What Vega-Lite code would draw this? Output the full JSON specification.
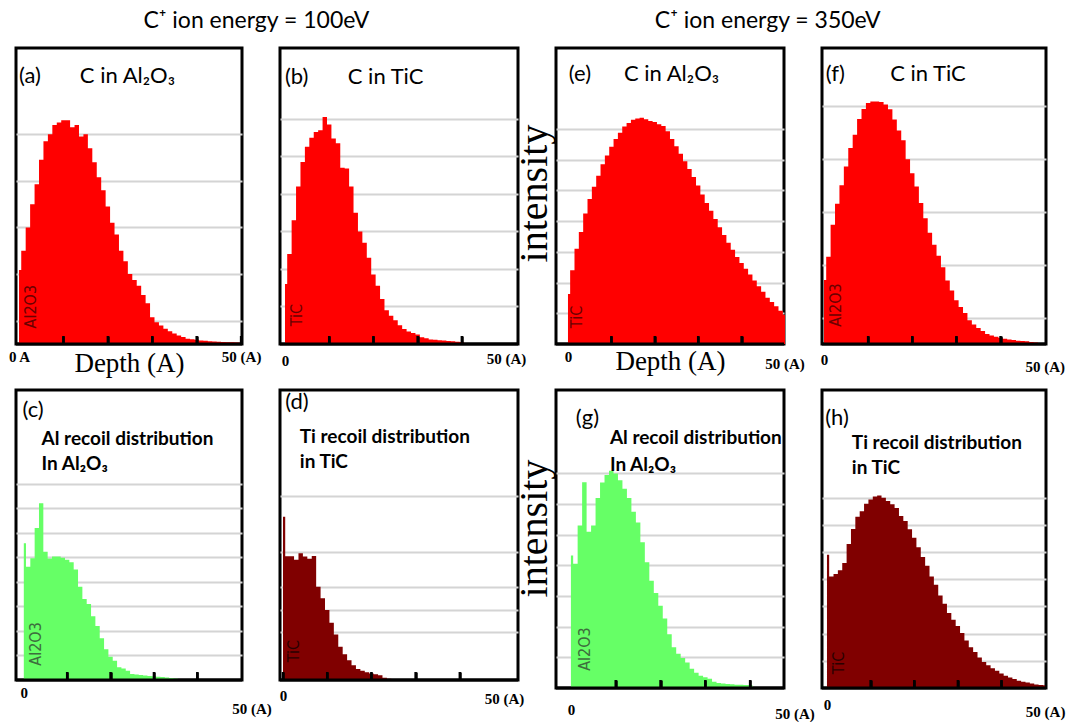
{
"$schema": "https://vega.github.io/schema/vega-lite/v6.json",
"background": "white",
"padding": {"left": 6, "top": 8, "right": 0, "bottom": 0},
"config": {"view": {"stroke": "#000", "strokeWidth": 3}, "font": "Lato", "axis": {"ticks": true}},
"datasets": {"h": [
{"x":0,"a":3.17,"b":1.6,"c":5.57,"d":7.0,"e":1.63,"f":2.42,"g":4.32,"h":4.9},
{"x":1,"a":4.0,"b":2.4,"c":4.62,"d":5.3,"e":2.4,"f":3.3,"g":4.05,"h":4.1},
{"x":2,"a":5.0,"b":3.3,"c":4.96,"d":5.3,"e":3.1,"f":4.5,"g":5.3,"h":4.19},
{"x":3,"a":6.0,"b":4.2,"c":6.2,"d":5.15,"e":3.65,"f":5.3,"g":6.71,"h":4.33},
{"x":4,"a":6.85,"b":4.85,"c":7.2,"d":5.43,"e":4.25,"f":6.0,"g":5.1,"h":4.6},
{"x":5,"a":7.9,"b":5.26,"c":5.23,"d":5.29,"e":4.72,"f":6.7,"g":5.3,"h":5.3},
{"x":6,"a":8.7,"b":5.5,"c":4.95,"d":5.2,"e":5.12,"f":7.4,"g":6.2,"h":5.85},
{"x":7,"a":9.0,"b":5.65,"c":5.03,"d":5.31,"e":5.48,"f":7.9,"g":6.7,"h":6.3},
{"x":8,"a":9.4,"b":5.7,"c":5.03,"d":4.0,"e":5.85,"f":8.5,"g":6.95,"h":6.5},
{"x":9,"a":9.5,"b":6.05,"c":4.98,"d":3.5,"e":6.14,"f":8.88,"g":7.09,"h":6.78},
{"x":10,"a":9.6,"b":5.85,"c":4.9,"d":3.0,"e":6.42,"f":9.1,"g":7.0,"h":6.93},
{"x":11,"a":9.6,"b":5.48,"c":4.8,"d":2.45,"e":6.68,"f":9.16,"g":6.78,"h":7.04},
{"x":12,"a":9.3,"b":5.35,"c":4.5,"d":1.95,"e":6.88,"f":9.16,"g":6.5,"h":7.08},
{"x":13,"a":9.4,"b":4.7,"c":3.8,"d":1.42,"e":7.08,"f":9.14,"g":6.2,"h":7.0},
{"x":14,"a":8.9,"b":4.68,"c":3.3,"d":1.1,"e":7.2,"f":9.05,"g":5.75,"h":6.88},
{"x":15,"a":9.0,"b":4.2,"c":3.1,"d":0.85,"e":7.3,"f":8.87,"g":5.4,"h":6.76},
{"x":16,"a":8.4,"b":3.5,"c":2.6,"d":0.63,"e":7.34,"f":8.48,"g":4.75,"h":6.62},
{"x":17,"a":7.8,"b":3.0,"c":2.2,"d":0.47,"e":7.37,"f":8.06,"g":4.1,"h":6.33},
{"x":18,"a":7.15,"b":2.7,"c":1.7,"d":0.4,"e":7.32,"f":7.7,"g":3.5,"h":6.14},
{"x":19,"a":6.6,"b":2.3,"c":1.25,"d":0.33,"e":7.26,"f":6.98,"g":3.1,"h":5.84},
{"x":20,"a":5.9,"b":1.85,"c":0.95,"d":0.28,"e":7.23,"f":6.45,"g":2.68,"h":5.53},
{"x":21,"a":5.2,"b":1.55,"c":0.78,"d":0.25,"e":7.16,"f":5.95,"g":2.27,"h":5.18},
{"x":22,"a":4.7,"b":1.2,"c":0.52,"d":0.2,"e":7.1,"f":5.33,"g":1.75,"h":4.82},
{"x":23,"a":4.0,"b":0.9,"c":0.47,"d":0.1,"e":6.93,"f":4.75,"g":1.33,"h":4.5},
{"x":24,"a":3.55,"b":0.75,"c":0.38,"d":0.05,"e":6.68,"f":4.2,"g":1.12,"h":4.1},
{"x":25,"a":3.0,"b":0.63,"c":0.24,"d":0.02,"e":6.44,"f":3.75,"g":0.98,"h":3.8},
{"x":26,"a":2.75,"b":0.5,"c":0.22,"d":0,"e":6.2,"f":3.33,"g":0.83,"h":3.4},
{"x":27,"a":2.5,"b":0.4,"c":0.2,"d":0,"e":5.95,"f":2.9,"g":0.63,"h":3.1},
{"x":28,"a":2.1,"b":0.33,"c":0.18,"d":0,"e":5.7,"f":2.4,"g":0.5,"h":2.76},
{"x":29,"a":1.75,"b":0.29,"c":0.16,"d":0,"e":5.44,"f":2.02,"g":0.4,"h":2.51},
{"x":30,"a":1.15,"b":0.25,"c":0.15,"d":0,"e":5.16,"f":1.65,"g":0.35,"h":2.28},
{"x":31,"a":0.93,"b":0.18,"c":0.13,"d":0,"e":4.87,"f":1.4,"g":0.3,"h":2.02},
{"x":32,"a":0.79,"b":0.15,"c":0.12,"d":0,"e":4.59,"f":1.17,"g":0.2,"h":1.75},
{"x":33,"a":0.65,"b":0.12,"c":0.1,"d":0,"e":4.34,"f":0.9,"g":0.16,"h":1.5},
{"x":34,"a":0.55,"b":0.11,"c":0.08,"d":0,"e":4.07,"f":0.74,"g":0.15,"h":1.32},
{"x":35,"a":0.45,"b":0.1,"c":0.06,"d":0,"e":3.8,"f":0.6,"g":0.13,"h":1.12},
{"x":36,"a":0.37,"b":0.09,"c":0,"d":0,"e":3.55,"f":0.49,"g":0.12,"h":0.96},
{"x":37,"a":0.3,"b":0.08,"c":0,"d":0,"e":3.3,"f":0.38,"g":0.11,"h":0.84},
{"x":38,"a":0.22,"b":0.07,"c":0,"d":0,"e":3.07,"f":0.32,"g":0.11,"h":0.73},
{"x":39,"a":0.2,"b":0.06,"c":0,"d":0,"e":2.83,"f":0.27,"g":0.1,"h":0.63},
{"x":40,"a":0.18,"b":0.05,"c":0,"d":0,"e":2.64,"f":0.24,"g":0.1,"h":0.53},
{"x":41,"a":0.15,"b":0.03,"c":0,"d":0,"e":2.45,"f":0.2,"g":0,"h":0.45},
{"x":42,"a":0.14,"b":0.03,"c":0,"d":0,"e":2.26,"f":0.17,"g":0,"h":0.39},
{"x":43,"a":0.12,"b":0.02,"c":0,"d":0,"e":2.07,"f":0.15,"g":0,"h":0.33},
{"x":44,"a":0.11,"b":0.02,"c":0,"d":0,"e":1.88,"f":0.12,"g":0,"h":0.27},
{"x":45,"a":0.1,"b":0.02,"c":0,"d":0,"e":1.7,"f":0.11,"g":0,"h":0.23},
{"x":46,"a":0.09,"b":0.01,"c":0,"d":0,"e":1.51,"f":0.1,"g":0,"h":0.2},
{"x":47,"a":0.08,"b":0.01,"c":0,"d":0,"e":1.37,"f":0.08,"g":0,"h":0.17},
{"x":48,"a":0.07,"b":0.01,"c":0,"d":0,"e":1.23,"f":0.06,"g":0,"h":0.13},
{"x":49,"a":0.06,"b":0,"c":0,"d":0,"e":1.08,"f":0.04,"g":0,"h":0.11},
{"x":50,"a":0.05,"b":0,"c":0,"d":0,"e":0.95,"f":0.03,"g":0,"h":0.1}
]},
"data": {"name": "h"},
"columns": 4,
"align": "each",
"bounds": "flush",
"spacing": {"row": 46, "column": 38},
"concat": [
  {"width": 226, "height": 296, "layer": [
   {"mark": {"type": "area", "interpolate": "step", "color": "#ff0000"},
    "encoding": {
     "x": {"field": "x", "type": "quantitative", "scale": {"domain": [-0.68, 50.2], "nice": false, "zero": false},
      "axis": {"values": [0,10,20,30,40,50], "labelExpr": "datum.value == 0 ? '0 A' : datum.value == 50 ? '50 (A)' : ''", "offset": -8, "domain": false, "ticks": true, "tickSize": 8, "tickWidth": 2.5, "tickColor": {"condition": {"test": "datum.value == 0", "value": "rgba(0,0,0,0)"}, "value": "#000"}, "labelPadding": 5, "labelFont": "Liberation Serif", "labelFontWeight": "bold", "labelFontSize": 15, "labelColor": "#000", "labelFlush": false, "labelOverlap": false, "grid": false, "zindex": 1, "title": "Depth (A)", "titleFont": "Liberation Serif", "titleFontSize": 27, "titleFontWeight": "normal", "titleColor": "#000", "titleY": 27, "titleBaseline": "middle"}},
     "y": {"field": "a", "type": "quantitative", "scale": {"domain": [0, 12.7], "nice": false},
      "axis": {"values": [1,2,3,4,5,6,7,8,9], "grid": true, "gridColor": "#d4d4d4", "gridWidth": 2, "labels": false, "ticks": false, "domain": false, "title": null, "zindex": 0}}}},
   {"data": {"values": [{}]}, "mark": {"type": "rule", "color": "#000", "strokeWidth": 3}, "encoding": {"y": {"datum": 0}}},
   {"transform": [{"filter": "datum.x > 0 && datum.x <= 50 && datum.x % 10 == 0"}], "mark": {"type": "rule", "color": "#000", "strokeWidth": 2.5}, "encoding": {"x": {"field": "x", "type": "quantitative"}, "y": {"datum": 0}, "y2": {"datum": 0.343}}},
   {"data": {"values": [{"t": "C⁺ ion energy = 100eV"}]}, "mark": {"type": "text", "align": "left", "baseline": "middle", "font": "Lato, DejaVu Sans", "fontSize": 23, "color": "#000"}, "encoding": {"x": {"datum": 28.0}, "y": {"datum": 13.86}, "text": {"field": "t"}}},
   {"data": {"values": [{"t": "(a)"}]}, "mark": {"type": "text", "align": "left", "baseline": "middle", "font": "Lato, DejaVu Sans", "fontSize": 22, "color": "#000"}, "encoding": {"x": {"datum": 0}, "y": {"datum": 11.5}, "text": {"field": "t"}}},
   {"data": {"values": [{"t": "C in Al₂O₃"}]}, "mark": {"type": "text", "align": "left", "baseline": "middle", "font": "Lato, DejaVu Sans", "fontSize": 22, "color": "#000"}, "encoding": {"x": {"datum": 13.7}, "y": {"datum": 11.5}, "text": {"field": "t"}}},
   {"data": {"values": [{"t": "Al2O3"}]}, "mark": {"type": "text", "angle": 270, "align": "center", "baseline": "middle", "font": "Liberation Sans Narrow, DejaVu Sans Condensed, sans-serif", "fontSize": 16, "color": "#6b0000"}, "encoding": {"x": {"datum": 2.7}, "y": {"datum": 1.6}, "text": {"field": "t"}}}
  ]},
  {"width": 238, "height": 296, "layer": [
   {"mark": {"type": "area", "interpolate": "step", "color": "#ff0000"},
    "encoding": {
     "x": {"field": "x", "type": "quantitative", "scale": {"domain": [-1.13, 52.7], "nice": false, "zero": false},
      "axis": {"values": [0,10,20,30,40,50], "labelExpr": "datum.value == 0 ? '0' : datum.value == 50 ? '50 (A)' : ''", "offset": -8, "domain": false, "ticks": true, "tickSize": 8, "tickWidth": 2.5, "tickColor": {"condition": {"test": "datum.value == 0 || datum.value == 50", "value": "rgba(0,0,0,0)"}, "value": "#000"}, "labelPadding": {"condition": {"test": "datum.value == 50", "value": 7}, "value": 9}, "labelFont": "Liberation Serif", "labelFontWeight": "bold", "labelFontSize": 15, "labelColor": "#000", "labelFlush": false, "labelOverlap": false, "grid": false, "zindex": 1, "title": null}},
     "y": {"field": "b", "type": "quantitative", "scale": {"domain": [0, 7.89], "nice": false},
      "axis": {"values": [1,2,3,4,5,6], "grid": true, "gridColor": "#d4d4d4", "gridWidth": 2, "labels": false, "ticks": false, "domain": false, "title": null, "zindex": 0}}}},
   {"data": {"values": [{}]}, "mark": {"type": "rule", "color": "#000", "strokeWidth": 3}, "encoding": {"y": {"datum": 0}}},
   {"transform": [{"filter": "datum.x > 0 && datum.x < 50 && datum.x % 10 == 0"}], "mark": {"type": "rule", "color": "#000", "strokeWidth": 2.5}, "encoding": {"x": {"field": "x", "type": "quantitative"}, "y": {"datum": 0}, "y2": {"datum": 0.213}}},
   {"data": {"values": [{"t": "(b)"}]}, "mark": {"type": "text", "align": "left", "baseline": "middle", "font": "Lato, DejaVu Sans", "fontSize": 22, "color": "#000"}, "encoding": {"x": {"datum": 0}, "y": {"datum": 7.12}, "text": {"field": "t"}}},
   {"data": {"values": [{"t": "C in TiC"}]}, "mark": {"type": "text", "align": "left", "baseline": "middle", "font": "Lato, DejaVu Sans", "fontSize": 22, "color": "#000"}, "encoding": {"x": {"datum": 14.2}, "y": {"datum": 7.12}, "text": {"field": "t"}}},
   {"data": {"values": [{"t": "TiC"}]}, "mark": {"type": "text", "angle": 270, "align": "center", "baseline": "middle", "font": "Liberation Sans Narrow, DejaVu Sans Condensed, sans-serif", "fontSize": 16, "color": "#6b0000"}, "encoding": {"x": {"datum": 2.7}, "y": {"datum": 0.77}, "text": {"field": "t"}}}
  ]},
  {"width": 228, "height": 296, "layer": [
   {"mark": {"type": "area", "interpolate": "step", "color": "#ff0000"},
    "encoding": {
     "x": {"field": "x", "type": "quantitative", "scale": {"domain": [-2.76, 49.77], "nice": false, "zero": false},
      "axis": {"values": [0,10,20,30,40], "labelExpr": "datum.value == 0 ? '0' : ''", "offset": -8, "domain": false, "ticks": true, "tickSize": 8, "tickWidth": 2.5, "tickColor": {"condition": {"test": "datum.value == 0", "value": "rgba(0,0,0,0)"}, "value": "#000"}, "labelPadding": 5, "labelFont": "Liberation Serif", "labelFontWeight": "bold", "labelFontSize": 15, "labelColor": "#000", "labelFlush": false, "labelOverlap": false, "grid": false, "zindex": 1, "title": "Depth (A)", "titleFont": "Liberation Serif", "titleFontSize": 27, "titleFontWeight": "normal", "titleColor": "#000", "titleY": 25, "titleBaseline": "middle"}},
     "y": {"field": "e", "type": "quantitative", "scale": {"domain": [0, 9.64], "nice": false},
      "axis": {"values": [1,2,3,4,5,6,7], "grid": true, "gridColor": "#d4d4d4", "gridWidth": 2, "labels": false, "ticks": false, "domain": false, "zindex": 0, "title": "intensity", "titleFont": "Liberation Serif", "titleFontSize": 40, "titleFontWeight": "normal", "titleColor": "#000", "titlePadding": 2, "titleY": 145}}}},
   {"data": {"values": [{}]}, "mark": {"type": "rule", "color": "#000", "strokeWidth": 3}, "encoding": {"y": {"datum": 0}}},
   {"transform": [{"filter": "datum.x > 0 && datum.x < 50 && datum.x % 10 == 0"}], "mark": {"type": "rule", "color": "#000", "strokeWidth": 2.5}, "encoding": {"x": {"field": "x", "type": "quantitative"}, "y": {"datum": 0}, "y2": {"datum": 0.26}}},
   {"data": {"values": [{"t": "C⁺ ion energy = 350eV"}]}, "mark": {"type": "text", "align": "left", "baseline": "middle", "font": "Lato, DejaVu Sans", "fontSize": 23, "color": "#000"}, "encoding": {"x": {"datum": 20.0}, "y": {"datum": 10.52}, "text": {"field": "t"}}},
   {"data": {"values": [{"t": "50 (A)"}]}, "mark": {"type": "text", "align": "center", "baseline": "middle", "font": "Liberation Serif", "fontWeight": "bold", "fontSize": 15, "color": "#000"}, "encoding": {"x": {"datum": 50}, "y": {"datum": -0.65}, "text": {"field": "t"}}},
   {"data": {"values": [{"t": "(e)"}]}, "mark": {"type": "text", "align": "left", "baseline": "middle", "font": "Lato, DejaVu Sans", "fontSize": 22, "color": "#000"}, "encoding": {"x": {"datum": 0.2}, "y": {"datum": 8.8}, "text": {"field": "t"}}},
   {"data": {"values": [{"t": "C in Al₂O₃"}]}, "mark": {"type": "text", "align": "left", "baseline": "middle", "font": "Lato, DejaVu Sans", "fontSize": 22, "color": "#000"}, "encoding": {"x": {"datum": 12.9}, "y": {"datum": 8.8}, "text": {"field": "t"}}},
   {"data": {"values": [{"t": "TiC"}]}, "mark": {"type": "text", "angle": 270, "align": "center", "baseline": "middle", "font": "Liberation Sans Narrow, DejaVu Sans Condensed, sans-serif", "fontSize": 16, "color": "#6b0000"}, "encoding": {"x": {"datum": 2.1}, "y": {"datum": 0.88}, "text": {"field": "t"}}}
  ]},
  {"width": 224, "height": 296, "layer": [
   {"mark": {"type": "area", "interpolate": "step", "color": "#ff0000"},
    "encoding": {
     "x": {"field": "x", "type": "quantitative", "scale": {"domain": [-0.45, 50.3], "nice": false, "zero": false},
      "axis": {"values": [0,10,20,30,40,50], "labelExpr": "datum.value == 0 ? '0' : datum.value == 50 ? '50 (A)' : ''", "offset": -8, "domain": false, "ticks": true, "tickSize": 8, "tickWidth": 2.5, "tickColor": {"condition": {"test": "datum.value == 0 || datum.value == 50", "value": "rgba(0,0,0,0)"}, "value": "#000"}, "labelPadding": {"condition": {"test": "datum.value == 50", "value": 15}, "value": 8}, "labelFont": "Liberation Serif", "labelFontWeight": "bold", "labelFontSize": 15, "labelColor": "#000", "labelFlush": false, "labelOverlap": false, "grid": false, "zindex": 1, "title": null}},
     "y": {"field": "f", "type": "quantitative", "scale": {"domain": [0, 11.18], "nice": false},
      "axis": {"values": [1,2,3,4,5,6,7,8,9], "grid": true, "gridColor": "#d4d4d4", "gridWidth": 2, "labels": false, "ticks": false, "domain": false, "title": null, "zindex": 0}}}},
   {"data": {"values": [{}]}, "mark": {"type": "rule", "color": "#000", "strokeWidth": 3}, "encoding": {"y": {"datum": 0}}},
   {"transform": [{"filter": "datum.x > 0 && datum.x < 50 && datum.x % 10 == 0"}], "mark": {"type": "rule", "color": "#000", "strokeWidth": 2.5}, "encoding": {"x": {"field": "x", "type": "quantitative"}, "y": {"datum": 0}, "y2": {"datum": 0.302}}},
   {"data": {"values": [{"t": "(f)"}]}, "mark": {"type": "text", "align": "left", "baseline": "middle", "font": "Lato, DejaVu Sans", "fontSize": 22, "color": "#000"}, "encoding": {"x": {"datum": 0.4}, "y": {"datum": 10.2}, "text": {"field": "t"}}},
   {"data": {"values": [{"t": "C in TiC"}]}, "mark": {"type": "text", "align": "left", "baseline": "middle", "font": "Lato, DejaVu Sans", "fontSize": 22, "color": "#000"}, "encoding": {"x": {"datum": 15}, "y": {"datum": 10.2}, "text": {"field": "t"}}},
   {"data": {"values": [{"t": "Al2O3"}]}, "mark": {"type": "text", "angle": 270, "align": "center", "baseline": "middle", "font": "Liberation Sans Narrow, DejaVu Sans Condensed, sans-serif", "fontSize": 16, "color": "#6b0000"}, "encoding": {"x": {"datum": 2.7}, "y": {"datum": 1.47}, "text": {"field": "t"}}}
  ]},
  {"width": 226, "height": 290, "layer": [
   {"mark": {"type": "area", "interpolate": "step", "color": "#66ff66"},
    "encoding": {
     "x": {"field": "x", "type": "quantitative", "scale": {"domain": [-1.8, 50.3], "nice": false, "zero": false},
      "axis": {"values": [0,10,20,30,40], "labelExpr": "datum.value == 0 ? '0' : ''", "offset": -8, "domain": false, "ticks": true, "tickSize": 8, "tickWidth": 2.5, "tickColor": {"condition": {"test": "datum.value == 0", "value": "rgba(0,0,0,0)"}, "value": "#000"}, "labelPadding": 5, "labelFont": "Liberation Serif", "labelFontWeight": "bold", "labelFontSize": 15, "labelColor": "#000", "labelFlush": false, "labelOverlap": false, "grid": false, "zindex": 1, "title": null}},
     "y": {"field": "c", "type": "quantitative", "scale": {"domain": [0, 11.82], "nice": false},
      "axis": {"values": [1,2,3,4,5,6,7,8], "grid": true, "gridColor": "#d4d4d4", "gridWidth": 2, "labels": false, "ticks": false, "domain": false, "title": null, "zindex": 0}}}},
   {"data": {"values": [{}]}, "mark": {"type": "rule", "color": "#000", "strokeWidth": 3}, "encoding": {"y": {"datum": 0}}},
   {"transform": [{"filter": "datum.x > 0 && datum.x < 50 && datum.x % 10 == 0"}], "mark": {"type": "rule", "color": "#000", "strokeWidth": 2.5}, "encoding": {"x": {"field": "x", "type": "quantitative"}, "y": {"datum": 0}, "y2": {"datum": 0.326}}},
   {"data": {"values": [{"t": "50 (A)"}]}, "mark": {"type": "text", "align": "center", "baseline": "middle", "font": "Liberation Serif", "fontWeight": "bold", "fontSize": 15, "color": "#000"}, "encoding": {"x": {"datum": 52.6}, "y": {"datum": -1.18}, "text": {"field": "t"}}},
   {"data": {"values": [{"t": "(c)"}]}, "mark": {"type": "text", "align": "left", "baseline": "middle", "font": "Lato, DejaVu Sans", "fontSize": 22, "color": "#000"}, "encoding": {"x": {"datum": -0.3}, "y": {"datum": 11.0}, "text": {"field": "t"}}},
   {"data": {"values": [{"t": ["Al recoil distribution", "In Al₂O₃"]}]}, "mark": {"type": "text", "align": "left", "baseline": "top", "lineHeight": 25, "font": "Lato, DejaVu Sans", "fontSize": 19, "fontWeight": "bold", "color": "#000"}, "encoding": {"x": {"datum": 4.1}, "y": {"datum": 10.19}, "text": {"field": "t"}}},
   {"data": {"values": [{"t": "Al2O3"}]}, "mark": {"type": "text", "angle": 270, "align": "center", "baseline": "middle", "font": "Liberation Sans Narrow, DejaVu Sans Condensed, sans-serif", "fontSize": 16, "color": "#3d6e3d"}, "encoding": {"x": {"datum": 2.7}, "y": {"datum": 1.47}, "text": {"field": "t"}}}
  ]},
  {"width": 238, "height": 290, "layer": [
   {"mark": {"type": "area", "interpolate": "step", "color": "#800000"},
    "encoding": {
     "x": {"field": "x", "type": "quantitative", "scale": {"domain": [-0.68, 53.16], "nice": false, "zero": false},
      "axis": {"values": [0,10,20,30,40,50], "labelExpr": "datum.value == 0 ? '0' : datum.value == 50 ? '50 (A)' : ''", "offset": -8, "domain": false, "ticks": true, "tickSize": 8, "tickWidth": 2.5, "tickColor": {"condition": {"test": "datum.value == 50", "value": "rgba(0,0,0,0)"}, "value": "#000"}, "labelPadding": {"condition": {"test": "datum.value == 50", "value": 11}, "value": 8}, "labelFont": "Liberation Serif", "labelFontWeight": "bold", "labelFontSize": 15, "labelColor": "#000", "labelFlush": false, "labelOverlap": false, "grid": false, "zindex": 1, "title": null}},
     "y": {"field": "d", "type": "quantitative", "scale": {"domain": [0, 12.43], "nice": false},
      "axis": {"values": [2.07,3.0,3.97,5.5,7.89], "grid": true, "gridColor": "#d4d4d4", "gridWidth": 2, "labels": false, "ticks": false, "domain": false, "title": null, "zindex": 0}}}},
   {"data": {"values": [{}]}, "mark": {"type": "rule", "color": "#000", "strokeWidth": 3}, "encoding": {"y": {"datum": 0}}},
   {"transform": [{"filter": "datum.x >= 0 && datum.x < 50 && datum.x % 10 == 0"}], "mark": {"type": "rule", "color": "#000", "strokeWidth": 2.5}, "encoding": {"x": {"field": "x", "type": "quantitative"}, "y": {"datum": 0}, "y2": {"datum": 0.343}}},
   {"data": {"values": [{"t": "(d)"}]}, "mark": {"type": "text", "align": "left", "baseline": "middle", "font": "Lato, DejaVu Sans", "fontSize": 22, "color": "#000"}, "encoding": {"x": {"datum": 0.5}, "y": {"datum": 11.9}, "text": {"field": "t"}}},
   {"data": {"values": [{"t": ["Ti recoil distribution", "in TiC"]}]}, "mark": {"type": "text", "align": "left", "baseline": "top", "lineHeight": 25, "font": "Lato, DejaVu Sans", "fontSize": 19, "fontWeight": "bold", "color": "#000"}, "encoding": {"x": {"datum": 3.8}, "y": {"datum": 10.8}, "text": {"field": "t"}}},
   {"data": {"values": [{"t": "TiC"}]}, "mark": {"type": "text", "angle": 270, "align": "center", "baseline": "middle", "font": "Liberation Sans Narrow, DejaVu Sans Condensed, sans-serif", "fontSize": 16, "color": "#2a0000"}, "encoding": {"x": {"datum": 2.5}, "y": {"datum": 1.24}, "text": {"field": "t"}}}
  ]},
  {"width": 228, "height": 298, "layer": [
   {"mark": {"type": "area", "interpolate": "step", "color": "#66ff66"},
    "encoding": {
     "x": {"field": "x", "type": "quantitative", "scale": {"domain": [-3.33, 47.56], "nice": false, "zero": false},
      "axis": {"values": [0,10,20,30,40], "labelExpr": "datum.value == 0 ? '0' : ''", "offset": -8, "domain": false, "ticks": true, "tickSize": 8, "tickWidth": 2.5, "tickColor": {"condition": {"test": "datum.value == 0", "value": "rgba(0,0,0,0)"}, "value": "#000"}, "labelPadding": 14, "labelFont": "Liberation Serif", "labelFontWeight": "bold", "labelFontSize": 15, "labelColor": "#000", "labelFlush": false, "labelOverlap": false, "grid": false, "zindex": 1, "title": null}},
     "y": {"field": "g", "type": "quantitative", "scale": {"domain": [0, 9.72], "nice": false},
      "axis": {"values": [1,2,3,4,5,6,7], "grid": true, "gridColor": "#d4d4d4", "gridWidth": 2, "labels": false, "ticks": false, "domain": false, "zindex": 0, "title": "intensity", "titleFont": "Liberation Serif", "titleFontSize": 40, "titleFontWeight": "normal", "titleColor": "#000", "titlePadding": 2, "titleY": 138}}}},
   {"data": {"values": [{}]}, "mark": {"type": "rule", "color": "#000", "strokeWidth": 3}, "encoding": {"y": {"datum": 0}}},
   {"transform": [{"filter": "datum.x > 0 && datum.x < 50 && datum.x % 10 == 0"}], "mark": {"type": "rule", "color": "#000", "strokeWidth": 2.5}, "encoding": {"x": {"field": "x", "type": "quantitative"}, "y": {"datum": 0}, "y2": {"datum": 0.26}}},
   {"data": {"values": [{"t": "50 (A)"}]}, "mark": {"type": "text", "align": "center", "baseline": "middle", "font": "Liberation Serif", "fontWeight": "bold", "fontSize": 15, "color": "#000"}, "encoding": {"x": {"datum": 50}, "y": {"datum": -0.85}, "text": {"field": "t"}}},
   {"data": {"values": [{"t": "(g)"}]}, "mark": {"type": "text", "align": "left", "baseline": "middle", "font": "Lato, DejaVu Sans", "fontSize": 22, "color": "#000"}, "encoding": {"x": {"datum": 1.1}, "y": {"datum": 8.8}, "text": {"field": "t"}}},
   {"data": {"values": [{"t": ["Al recoil distribution", "In Al₂O₃"]}]}, "mark": {"type": "text", "align": "left", "baseline": "top", "lineHeight": 27, "font": "Lato, DejaVu Sans", "fontSize": 19, "fontWeight": "bold", "color": "#000"}, "encoding": {"x": {"datum": 8.7}, "y": {"datum": 8.44}, "text": {"field": "t"}}},
   {"data": {"values": [{"t": "Al2O3"}]}, "mark": {"type": "text", "angle": 270, "align": "center", "baseline": "middle", "font": "Liberation Sans Narrow, DejaVu Sans Condensed, sans-serif", "fontSize": 16, "color": "#3d6e3d"}, "encoding": {"x": {"datum": 3.1}, "y": {"datum": 1.27}, "text": {"field": "t"}}}
  ]},
  {"width": 224, "height": 298, "layer": [
   {"mark": {"type": "area", "interpolate": "step", "color": "#800000"},
    "encoding": {
     "x": {"field": "x", "type": "quantitative", "scale": {"domain": [-1.14, 50.2], "nice": false, "zero": false},
      "axis": {"values": [0,10,20,30,40,50], "labelExpr": "datum.value == 0 ? '0' : datum.value == 50 ? '50 (A)' : ''", "offset": -8, "domain": false, "ticks": true, "tickSize": 8, "tickWidth": 2.5, "tickColor": {"condition": {"test": "datum.value == 0 || datum.value == 50", "value": "rgba(0,0,0,0)"}, "value": "#000"}, "labelPadding": {"condition": {"test": "datum.value == 50", "value": 16}, "value": 9}, "labelFont": "Liberation Serif", "labelFontWeight": "bold", "labelFontSize": 15, "labelColor": "#000", "labelFlush": false, "labelOverlap": false, "grid": false, "zindex": 1, "title": null}},
     "y": {"field": "h", "type": "quantitative", "scale": {"domain": [0, 10.96], "nice": false},
      "axis": {"values": [1,2,3,4,5,6,7], "grid": true, "gridColor": "#d4d4d4", "gridWidth": 2, "labels": false, "ticks": false, "domain": false, "title": null, "zindex": 0}}}},
   {"data": {"values": [{}]}, "mark": {"type": "rule", "color": "#000", "strokeWidth": 3}, "encoding": {"y": {"datum": 0}}},
   {"transform": [{"filter": "datum.x > 0 && datum.x < 50 && datum.x % 10 == 0"}], "mark": {"type": "rule", "color": "#000", "strokeWidth": 2.5}, "encoding": {"x": {"field": "x", "type": "quantitative"}, "y": {"datum": 0}, "y2": {"datum": 0.294}}},
   {"data": {"values": [{"t": "(h)"}]}, "mark": {"type": "text", "align": "left", "baseline": "middle", "font": "Lato, DejaVu Sans", "fontSize": 22, "color": "#000"}, "encoding": {"x": {"datum": -0.4}, "y": {"datum": 9.93}, "text": {"field": "t"}}},
   {"data": {"values": [{"t": ["Ti recoil distribution", "in TiC"]}]}, "mark": {"type": "text", "align": "left", "baseline": "top", "lineHeight": 25, "font": "Lato, DejaVu Sans", "fontSize": 19, "fontWeight": "bold", "color": "#000"}, "encoding": {"x": {"datum": 5.7}, "y": {"datum": 9.34}, "text": {"field": "t"}}},
   {"data": {"values": [{"t": "TiC"}]}, "mark": {"type": "text", "angle": 270, "align": "center", "baseline": "middle", "font": "Liberation Sans Narrow, DejaVu Sans Condensed, sans-serif", "fontSize": 16, "color": "#2a0000"}, "encoding": {"x": {"datum": 2.7}, "y": {"datum": 0.92}, "text": {"field": "t"}}}
  ]}
]
}
